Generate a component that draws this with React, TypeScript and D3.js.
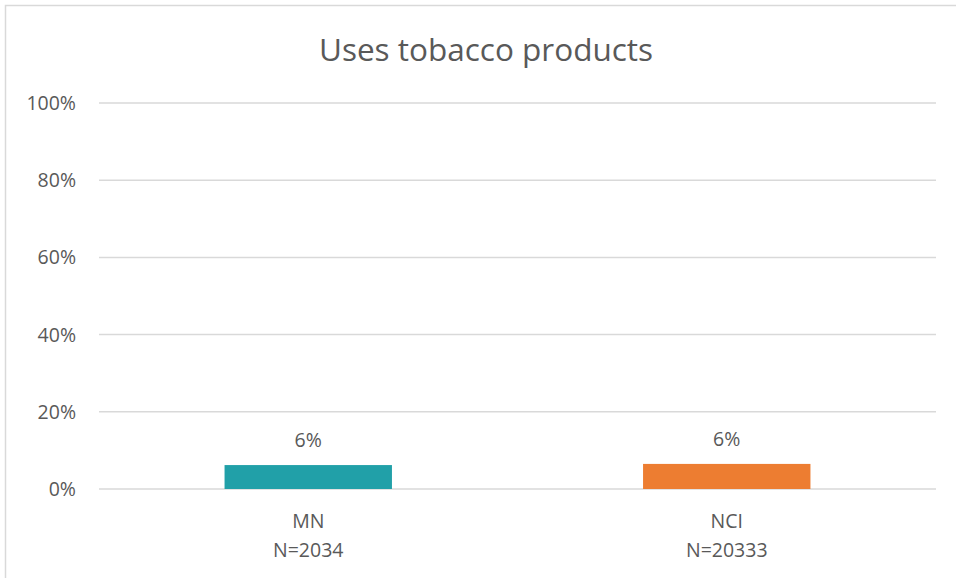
import React from "react";
import * as d3 from "d3";

const categories = ["MN", "NCI"];
const sampleSizes = ["N=2034", "N=20333"];
const values = [0.062, 0.065];
const valueLabels = ["6%", "6%"];
const yTicks = [0, 0.2, 0.4, 0.6, 0.8, 1.0];
const colors = ["#21A0A8", "#ED7D31"];
const title = "Uses tobacco products";

export default function App() {
  const W = 956, H = 578;
  const left = 99, right = 936, top = 103, bottom = 489;
  const x = d3.scaleBand<string>().domain(categories).range([left, right]).paddingInner(0.6).paddingOuter(0.3);
  const y = d3.scaleLinear().domain([0, 1]).range([bottom, top]);
  const font = "'Open Sans', sans-serif";
  const txt = "#595959";
  const fs = 19.5;
  return (
    <svg width={W} height={H} style={{ position: "absolute", left: 0, top: 0 }} fontFamily={font}>
      <rect x={0} y={0} width={W} height={H} fill="#fff" />
      <rect x={5.5} y={5.5} width={980} height={600} fill="none" stroke="#D9D9D9" strokeWidth={1.5} />
      <text x={486} y={61} textAnchor="middle" fontSize={31.5} fill={txt}>{title}</text>
      {yTicks.map((t) => (
        <g key={t}>
          <line x1={left} x2={right} y1={y(t)} y2={y(t)} stroke="#D9D9D9" strokeWidth={1.5} />
          <text x={76} y={y(t) + 7} textAnchor="end" fontSize={fs} fill={txt}>{d3.format(".0%")(t)}</text>
        </g>
      ))}
      {categories.map((c, i) => {
        const bx = x(c)!;
        const bw = x.bandwidth();
        const cx = bx + bw / 2;
        return (
          <g key={c}>
            <rect x={bx} y={y(values[i])} width={bw} height={y(0) - y(values[i])} fill={colors[i]} />
            <text x={cx} y={y(values[i]) - 18} textAnchor="middle" fontSize={fs} fill={txt}>{valueLabels[i]}</text>
            <text x={cx} y={528} textAnchor="middle" fontSize={fs} fill={txt}>{c}</text>
            <text x={cx} y={557} textAnchor="middle" fontSize={fs} fill={txt}>{sampleSizes[i]}</text>
          </g>
        );
      })}
    </svg>
  );
}
